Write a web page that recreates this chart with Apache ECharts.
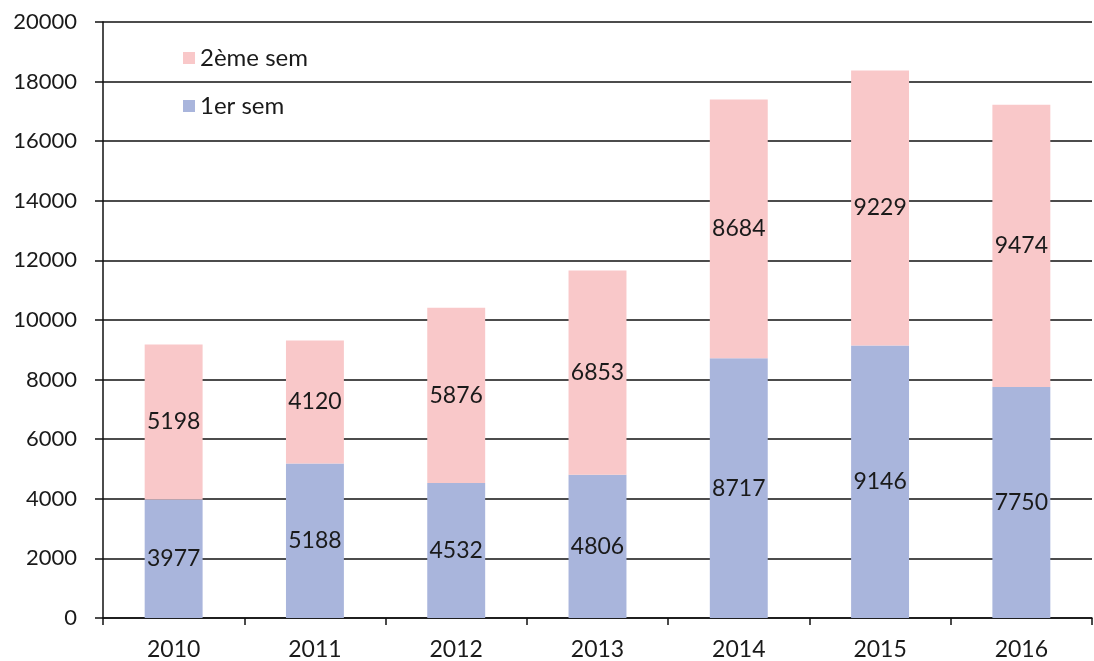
<!DOCTYPE html>
<html><head><meta charset="utf-8">
<script src="https://cdn.jsdelivr.net/npm/echarts@6/dist/echarts.min.js"></script>
<style>html,body{margin:0;padding:0;background:#fff}#c{width:1094px;height:661px}</style>
</head><body><div id="c"></div>
<script>
const categories = ['2010','2011','2012','2013','2014','2015','2016'];
const sem1 = [3977, 5188, 4532, 4806, 8717, 9146, 7750];
const sem2 = [5198, 4120, 5876, 6853, 8684, 9229, 9474];
const seriesNames = ['1er sem', '2ème sem'];

const font = 'Lato, "Open Sans", sans-serif';
const chart = echarts.init(document.getElementById('c'));
chart.setOption({
  animation: false,
  grid: {left: 103, right: 2, top: 22, bottom: 43, containLabel: false},
  legend: {
    orient: 'vertical', left: 178, top: 41, itemGap: 24,
    itemWidth: 12, itemHeight: 12, icon: 'rect',
    data: [seriesNames[1], seriesNames[0]],
    textStyle: {fontFamily: font, fontSize: 24, color: '#1a1a1a'}
  },
  xAxis: {
    type: 'category', data: categories,
    axisLine: {lineStyle: {color: '#111', width: 1.5}},
    axisTick: {show: true, alignWithLabel: false, length: 7, lineStyle: {color: '#111', width: 1.5}},
    axisLabel: {fontFamily: font, fontSize: 23, color: '#1a1a1a', margin: 20}
  },
  yAxis: {
    type: 'value', min: 0, max: 20000, interval: 2000,
    axisLine: {show: true, lineStyle: {color: '#111', width: 1.5}},
    axisTick: {show: true, inside: false, length: 8, lineStyle: {color: '#111', width: 1.5}},
    splitLine: {lineStyle: {color: '#111', width: 1.5}},
    axisLabel: {fontFamily: font, fontSize: 22, color: '#1a1a1a', margin: 26, formatter: v => String(v)}
  },
  series: [
    {name: seriesNames[0], type: 'bar', stack: 'a', data: sem1, barWidth: '41%',
     itemStyle: {color: '#a9b5dc'},
     label: {show: true, position: 'inside', fontFamily: font, fontSize: 23, color: '#1a1a1a'}},
    {name: seriesNames[1], type: 'bar', stack: 'a', data: sem2, barWidth: '41%',
     itemStyle: {color: '#f9c8c9'},
     label: {show: true, position: 'inside', fontFamily: font, fontSize: 23, color: '#1a1a1a'}}
  ]
});
</script></body></html>
